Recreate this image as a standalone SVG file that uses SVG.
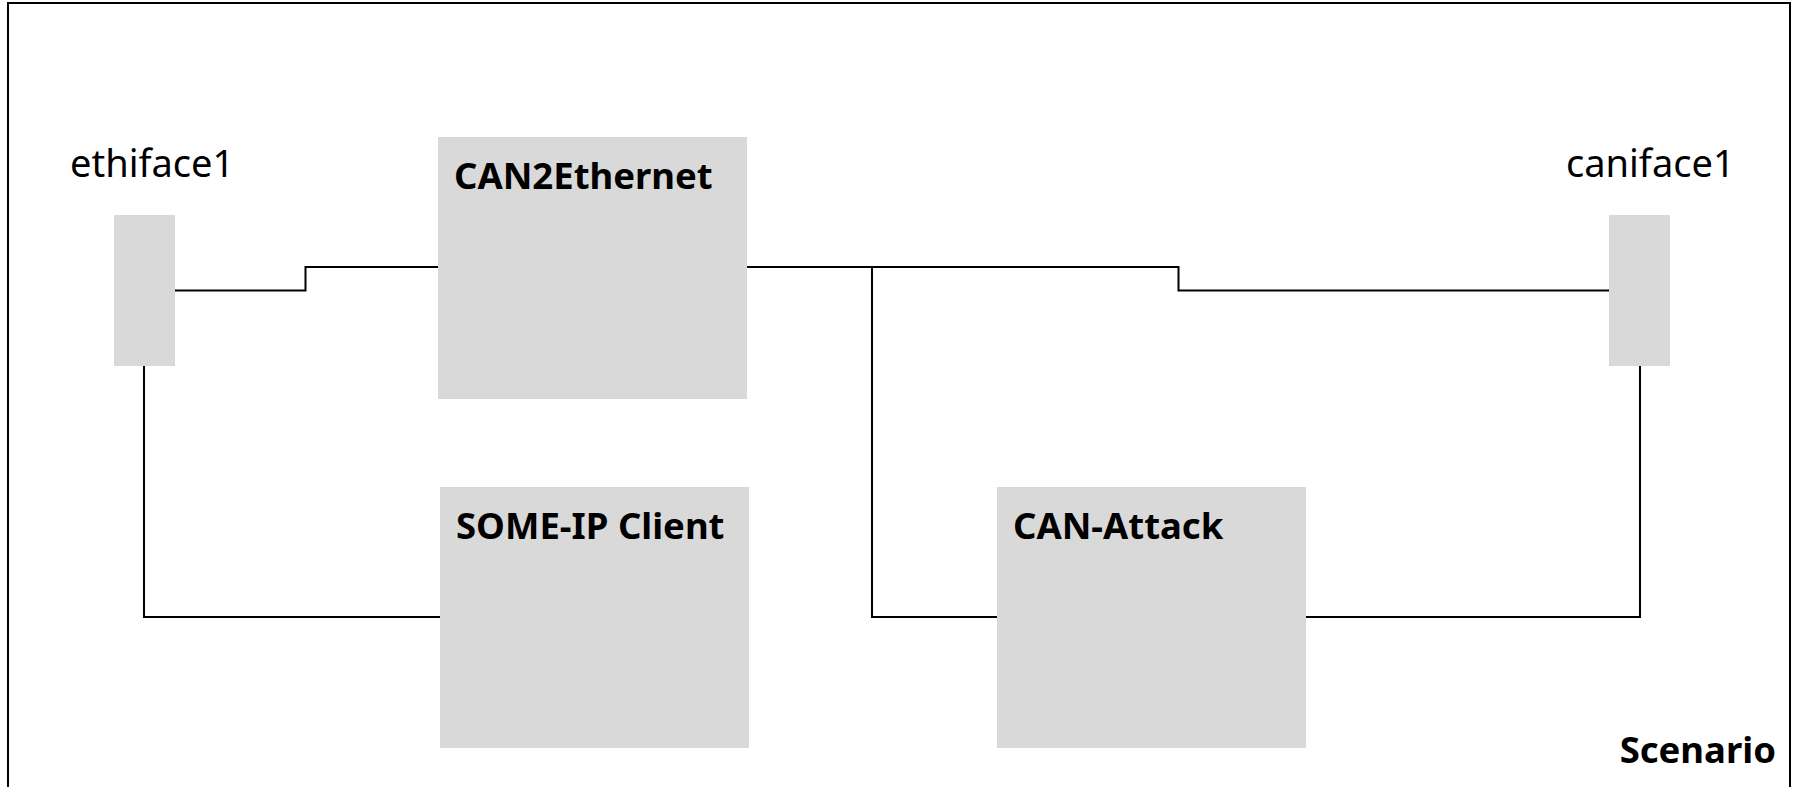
<svg xmlns="http://www.w3.org/2000/svg" width="1801" height="787" viewBox="0 0 1801 787">
<style>
.box{fill:#d9d9d9}
.lbl{font-family:"Noto Sans","Open Sans",sans-serif;font-size:38px;fill:#000}
.ttl{font-family:"Noto Sans","Open Sans",sans-serif;font-size:36.5px;font-weight:bold;fill:#000}
.wire{fill:none;stroke:#000;stroke-width:2}
</style>
<rect x="0" y="0" width="1801" height="787" fill="#fff"/>
<rect id="frame" x="8" y="3" width="1782" height="800" fill="none" stroke="#000" stroke-width="2"/>
<g id="connectors">
<path class="wire" d="M175,290.5 H305.5 V267 H438"/>
<path class="wire" d="M747,267 H1178.5 V290.5 H1609"/>
<path class="wire" d="M872,267 V617 H997"/>
<path class="wire" d="M144,366 V617 H440"/>
<path class="wire" d="M1306,617 H1640 V366"/>
</g>
<g id="ethiface1">
<rect class="box" x="114" y="215" width="61" height="151"/>
<text class="lbl" x="70" y="177">ethiface1</text>
</g>
<g id="caniface1">
<rect class="box" x="1609" y="215" width="61" height="151"/>
<text class="lbl" x="1566" y="177">caniface1</text>
</g>
<g id="can2ethernet">
<rect class="box" x="438" y="137" width="309" height="262"/>
<text class="ttl" x="454" y="189">CAN2Ethernet</text>
</g>
<g id="someip-client">
<rect class="box" x="440" y="487" width="309" height="261"/>
<text class="ttl" x="456" y="539">SOME-IP Client</text>
</g>
<g id="can-attack">
<rect class="box" x="997" y="487" width="309" height="261"/>
<text class="ttl" x="1013" y="539">CAN-Attack</text>
</g>
<g id="scenario">
<text class="ttl" x="1776" y="763" text-anchor="end">Scenario</text>
</g>
</svg>
